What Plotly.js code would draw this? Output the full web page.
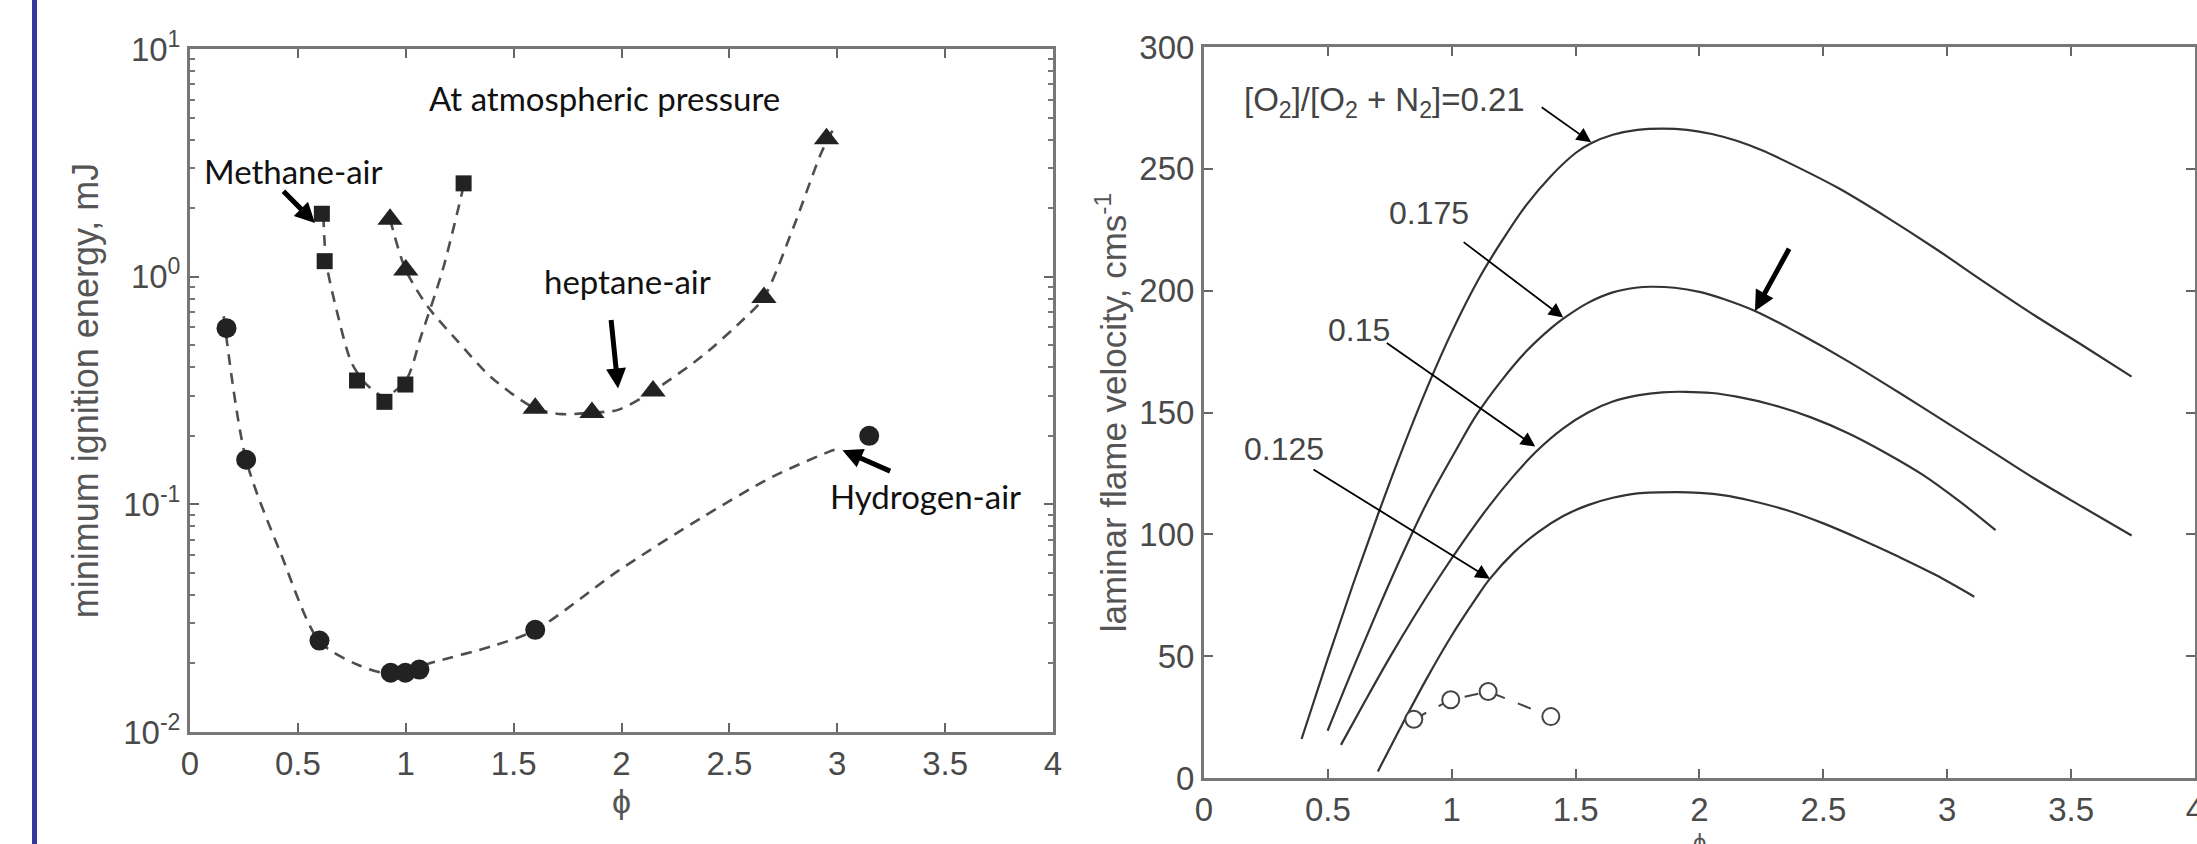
<!DOCTYPE html>
<html><head><meta charset="utf-8">
<script src="https://cdn.plot.ly/plotly-3.0.1.min.js"></script>
<style>html,body{margin:0;padding:0;background:#fff}#chart{width:2197px;height:844px}</style>
</head><body><div id="chart"></div>
<script>
// ---------- Left panel: minimum ignition energy (mJ) vs phi ----------
const h2Phi = [0.169, 0.26, 0.60, 0.93, 0.998, 1.063, 1.60, 3.148];
const h2Mie = [0.594, 0.157, 0.0252, 0.0182, 0.0182, 0.0188, 0.0281, 0.20];
const ch4Phi = [0.611, 0.624, 0.774, 0.901, 0.998, 1.268];
const ch4Mie = [1.89, 1.17, 0.35, 0.282, 0.336, 2.57];
const c7Phi = [0.927, 1.0, 1.6, 1.863, 2.146, 2.66, 2.95];
const c7Mie = [1.79, 1.07, 0.264, 0.253, 0.315, 0.81, 4.04];
// dashed fit curves
const h2FitPhi = [0.156, 0.26, 0.423, 0.60, 0.78, 0.93, 1.138, 1.398, 1.60, 1.984, 2.374, 2.699, 2.96, 3.0];
const h2FitMie = [0.67, 0.157, 0.06, 0.025, 0.0197, 0.018, 0.0204, 0.0238, 0.028, 0.051, 0.0877, 0.132, 0.170, 0.175];
const ch4FitPhi = [0.618, 0.632, 0.683, 0.748, 0.813, 0.90, 1.0, 1.073, 1.171, 1.268];
const ch4FitMie = [1.85, 1.15, 0.69, 0.42, 0.34, 0.298, 0.35, 0.556, 1.07, 2.5];
const c7FitPhi = [0.927, 1.0, 1.106, 1.236, 1.398, 1.6, 1.724, 1.863, 1.984, 2.146, 2.374, 2.569, 2.66, 2.797, 2.927, 2.99];
const c7FitMie = [1.79, 1.07, 0.73, 0.527, 0.36, 0.264, 0.249, 0.253, 0.26, 0.315, 0.448, 0.655, 0.81, 1.65, 3.52, 4.6];
const leftXTicks = [0, 0.5, 1, 1.5, 2, 2.5, 3, 3.5, 4];
const leftXLabels = ['0', '0.5', '1', '1.5', '2', '2.5', '3', '3.5', '4'];
const leftYTicks = [0.01, 0.1, 1, 10];
const leftYLabels = ['10<sup>-2</sup>', '10<sup>-1</sup>', '10<sup>0</sup>', '10<sup>1</sup>'];

// ---------- Right panel: laminar flame velocity (cm/s) vs phi ----------
const o21Phi = [0.394, 0.5, 0.6, 0.7, 0.788, 0.9, 1.0, 1.11, 1.2, 1.3, 1.4, 1.5, 1.5625, 1.65, 1.75, 1.85,
                1.95, 2.05, 2.15, 2.252, 2.4, 2.562, 2.75, 2.956, 3.15, 3.35, 3.55, 3.744];
const o21V = [16, 49, 79, 107.5, 131.5, 160, 183, 205, 220, 235, 247, 256.5, 260.5, 264, 266, 266.5,
              266, 264.3, 261.5, 257.6, 250.5, 242, 230.5, 217, 203.5, 190, 177.3, 164.7];
const o175Phi = [0.499, 0.6, 0.7, 0.8, 0.9, 1.017, 1.1, 1.2, 1.3, 1.4, 1.45, 1.55, 1.65, 1.75, 1.80,
                 1.9, 2.0, 2.1, 2.224, 2.4, 2.6, 2.8, 2.956, 3.15, 3.35, 3.55, 3.744];
const o175V = [19.4, 44.6, 68.6, 91.6, 113, 134.5, 149, 163, 175, 184.5, 188.5, 195, 199.3, 201.3, 201.6,
               201.2, 199.5, 196.5, 191.7, 182.5, 171, 158.5, 148.5, 136, 123, 111, 99.5];
const o15Phi = [0.553, 0.65, 0.75, 0.85, 0.95, 1.05, 1.15, 1.25, 1.341, 1.45, 1.55, 1.65, 1.75, 1.85, 1.943,
                2.05, 2.15, 2.3, 2.45, 2.6, 2.75, 2.9, 3.05, 3.195];
const o15V = [13.6, 31.5, 49.5, 66.5, 82.5, 97.5, 111.5, 124, 134, 143.5, 150, 154.5, 157, 158.3, 158.5,
              158, 156.5, 153, 148, 141.5, 133.5, 124.5, 113.5, 101.7];
const o125Phi = [0.702, 0.8, 0.9, 1.0, 1.1, 1.152, 1.25, 1.35, 1.45, 1.55, 1.65, 1.75, 1.908,
                 2.0, 2.1, 2.2, 2.35, 2.5, 2.65, 2.8, 2.95, 3.109];
const o125V = [2.7, 22, 41, 58.5, 74, 81.5, 92.5, 101, 107.5, 112, 115, 116.8, 117.3,
               117, 116, 114, 110, 104.5, 98, 91, 83.5, 74.4];
const expPhi = [0.847, 0.996, 1.147, 1.40];
const expV = [24.1, 32.1, 35.5, 25.2];
const rightXTicks = [0, 0.5, 1, 1.5, 2, 2.5, 3, 3.5, 4];
const rightXLabels = ['0', '0.5', '1', '1.5', '2', '2.5', '3', '3.5', '4'];
const rightYTicks = [0, 50, 100, 150, 200, 250, 300];

const HF = 'Liberation Sans, Arial, sans-serif';
const AF = 'Lato, Open Sans, sans-serif';
const dashLine = {color: '#4e4e4e', width: 2.6, dash: '11px,8px', shape: 'spline', smoothing: 0.8};
const curveLine = {color: '#333', width: 2.2, shape: 'spline', smoothing: 1};

const traces = [
  {x: h2FitPhi, y: h2FitMie, mode: 'lines', line: dashLine, xaxis: 'x', yaxis: 'y', hoverinfo: 'skip'},
  {x: ch4FitPhi, y: ch4FitMie, mode: 'lines', line: dashLine, xaxis: 'x', yaxis: 'y', hoverinfo: 'skip'},
  {x: c7FitPhi, y: c7FitMie, mode: 'lines', line: dashLine, xaxis: 'x', yaxis: 'y', hoverinfo: 'skip'},
  {x: h2Phi, y: h2Mie, mode: 'markers', marker: {symbol: 'circle', size: 20, color: '#222'}, xaxis: 'x', yaxis: 'y'},
  {x: ch4Phi, y: ch4Mie, mode: 'markers', marker: {symbol: 'square', size: 16, color: '#222'}, xaxis: 'x', yaxis: 'y'},
  {x: c7Phi, y: c7Mie, mode: 'markers', marker: {symbol: 'triangle-up', size: 22, color: '#222'}, xaxis: 'x', yaxis: 'y'},
  {x: o21Phi, y: o21V, mode: 'lines', line: curveLine, xaxis: 'x2', yaxis: 'y2'},
  {x: o175Phi, y: o175V, mode: 'lines', line: curveLine, xaxis: 'x2', yaxis: 'y2'},
  {x: o15Phi, y: o15V, mode: 'lines', line: curveLine, xaxis: 'x2', yaxis: 'y2'},
  {x: o125Phi, y: o125V, mode: 'lines', line: curveLine, xaxis: 'x2', yaxis: 'y2'},
  {x: expPhi, y: expV, mode: 'lines+markers', line: {color: '#444', width: 2, dash: '14px,14px'},
   marker: {symbol: 'circle', size: 17, color: '#fff', line: {color: '#444', width: 2}}, xaxis: 'x2', yaxis: 'y2'}
];

const L = Math.log10;
function txt(x, y, text, xr, yr, font, xanchor) {
  return {x: x, y: y, xref: xr, yref: yr, text: text, showarrow: false, font: font, xanchor: xanchor || 'center', yanchor: 'middle'};
}
function arr(x, y, ax, ay, xr, yr, w, size) {
  return {x: x, y: y, ax: ax, ay: ay, xref: xr, yref: yr, axref: xr, ayref: yr, text: '', showarrow: true,
          arrowhead: 2, arrowwidth: w, arrowsize: size, arrowcolor: '#000', standoff: 0, startstandoff: 0};
}
const annFontL = {family: AF, size: 33, color: '#111'};
const annFontR = {family: HF, size: 33, color: '#444'};
const annFontR2 = {family: HF, size: 32, color: '#444'};

const annotations = [
  txt(1.92, 0.783, 'At atmospheric pressure', 'x', 'y', annFontL),
  txt(0.481, 0.465, 'Methane-air', 'x', 'y', annFontL),
  txt(2.026, -0.019, 'heptane-air', 'x', 'y', annFontL),
  txt(3.408, -0.962, 'Hydrogen-air', 'x', 'y', annFontL),
  arr(0.579, L(1.72), 0.426, L(2.41), 'x', 'y', 5, 0.8),
  arr(1.984, L(0.323), 1.951, L(0.655), 'x', 'y', 5, 0.8),
  arr(3.024, L(0.173), 3.252, L(0.139), 'x', 'y', 5, 0.8),
  txt(0.155, 277.5, '[O<sub>2</sub>]/[O<sub>2</sub> + N<sub>2</sub>]=0.21', 'x2', 'y2', annFontR, 'left'),
  txt(0.908, 232, '0.175', 'x2', 'y2', annFontR2),
  txt(0.625, 184, '0.15', 'x2', 'y2', annFontR2),
  txt(0.324, 135, '0.125', 'x2', 'y2', annFontR2),
  arr(1.5625, 260.9, 1.357, 275.7, 'x2', 'y2', 1.8, 1.6),
  arr(1.45, 189, 1.042, 220.4, 'x2', 'y2', 1.8, 1.6),
  arr(1.337, 136, 0.732, 179, 'x2', 'y2', 1.8, 1.6),
  arr(1.154, 81.8, 0.436, 127, 'x2', 'y2', 1.8, 1.6),
  arr(2.224, 191.7, 2.365, 217.8, 'x2', 'y2', 5, 0.8),
  // right x-axis title, sitting at the bottom edge as in the reference
  {x: 2, y: 1 - 827 / 844, xref: 'x2', yref: 'paper', text: 'ϕ', showarrow: false,
   font: {family: HF, size: 24, color: '#555'}, xanchor: 'center', yanchor: 'top'}
];

const tickFont = {family: HF, size: 33, color: '#4a4a4a'};
const axBase = {showgrid: false, zeroline: false, showline: true, linecolor: '#777', linewidth: 3,
  mirror: 'ticks', ticks: 'inside', ticklen: 9, tickwidth: 2, tickcolor: '#666', tickfont: tickFont,
  ticklabeloverflow: 'allow'};

const layout = {
  width: 2197, height: 844, margin: {l: 0, r: 0, t: 0, b: 0},
  paper_bgcolor: '#fff', plot_bgcolor: '#fff', showlegend: false,
  xaxis: Object.assign({}, axBase, {domain: [0.0865, 0.4793], range: [0, 4], tickmode: 'array',
    tickvals: leftXTicks, ticktext: leftXLabels, anchor: 'y',
    title: {text: 'ϕ', font: {family: HF, size: 34, color: '#555'}, standoff: 6}}),
  yaxis: Object.assign({}, axBase, {domain: [0.1327, 0.9419], type: 'log', range: [-2, 1], tickmode: 'array',
    tickvals: leftYTicks, ticktext: leftYLabels, anchor: 'x',
    minor: {ticks: 'inside', ticklen: 5, tickwidth: 2, tickcolor: '#777', dtick: 'D1', showgrid: false},
    title: {text: 'minimum ignition energy, mJ', font: {family: HF, size: 36, color: '#555'}, standoff: 14}}),
  xaxis2: Object.assign({}, axBase, {domain: [0.5480, 0.9991], range: [0, 4], tickmode: 'array',
    tickvals: rightXTicks, ticktext: rightXLabels, anchor: 'y2'}),
  yaxis2: Object.assign({}, axBase, {domain: [0.0782, 0.9443], range: [0, 300], tickmode: 'array',
    tickvals: rightYTicks, anchor: 'x2',
    title: {text: 'laminar flame velocity, cms<sup>-1</sup>', font: {family: HF, size: 35, color: '#555'}, standoff: 3}}),
  annotations: annotations,
  shapes: [{type: 'rect', xref: 'paper', yref: 'paper', x0: 32 / 2197, x1: 37 / 2197, y0: 0, y1: 1,
            fillcolor: '#38389c', line: {width: 0}}]
};

Plotly.newPlot('chart', traces, layout, {staticPlot: true, displayModeBar: false});
</script>
</body></html>
